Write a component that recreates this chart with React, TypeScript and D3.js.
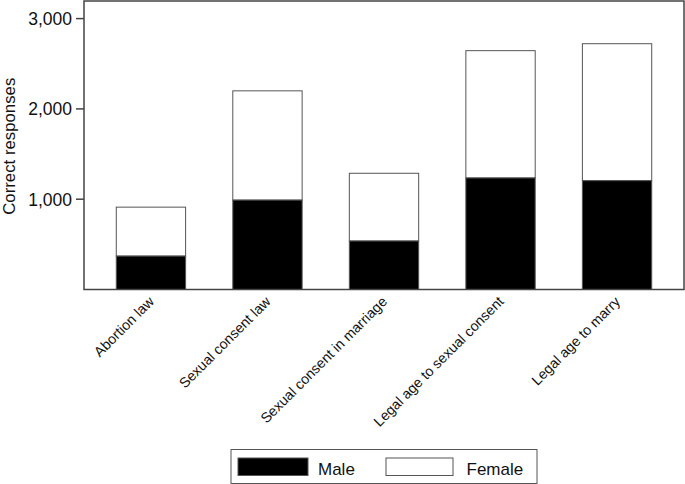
import React from "react";
import * as d3 from "d3";

const categories = [
  "Abortion law",
  "Sexual consent law",
  "Sexual consent in marriage",
  "Legal age to sexual consent",
  "Legal age to marry",
];
const maleValues = [370, 990, 537, 1235, 1205];
const femaleValues = [542, 1210, 750, 1410, 1517];
const yTicks = [1000, 2000, 3000];
const seriesNames = ["Male", "Female"];

const W = 685;
const H = 484;
const left = 84;
const right = 684;
const top = 1;
const bottom = 289.5;
const font = "'Liberation Sans', Arial, Helvetica, sans-serif";

export default function App() {
  const x = d3
    .scaleBand<string>()
    .domain(categories)
    .range([left, right])
    .paddingInner(0.405)
    .paddingOuter(0.277);
  const y = d3.scaleLinear().domain([0, 1000]).range([bottom, bottom - 90.3]);

  const fmt = d3.format(",");

  return (
    <div style={{ position: "absolute", left: 0, top: 0 }}>
      <svg width={W} height={H} style={{ display: "block", fontFamily: font }}>
        <rect width={W} height={H} fill="#fff" />
        {categories.map((c, i) => {
          const x0 = x(c)!;
          const bw = x.bandwidth();
          const m = maleValues[i];
          const f = femaleValues[i];
          return (
            <g key={c}>
              <rect
                x={x0}
                y={y(m + f)}
                width={bw}
                height={y(m) - y(m + f)}
                fill="#fff"
                stroke="#555"
                strokeWidth={1}
              />
              <rect
                x={x0}
                y={y(m)}
                width={bw}
                height={y(0) - y(m)}
                fill="#000"
                stroke="#555"
                strokeWidth={1}
              />
            </g>
          );
        })}
        <rect
          x={left}
          y={top}
          width={right - left}
          height={bottom - top}
          fill="none"
          stroke="#444"
          strokeWidth={1.5}
        />
        {yTicks.map((t) => (
          <g key={t}>
            <line x1={left - 8} x2={left} y1={y(t)} y2={y(t)} stroke="#444" strokeWidth={1.5} />
            <text
              x={left - 12}
              y={y(t)}
              dy="0.36em"
              textAnchor="end"
              fontSize={17.5}
              fill="#111"
            >
              {fmt(t)}
            </text>
          </g>
        ))}
        <text
          transform={`translate(15, ${(top + bottom) / 2 + 1}) rotate(-90)`}
          textAnchor="middle"
          fontSize={16.8}
          fill="#111"
        >
          Correct responses
        </text>
        {categories.map((c) => {
          const cx = x(c)! + x.bandwidth() / 2 + 4;
          return (
            <text
              key={c}
              transform={`translate(${cx}, ${bottom + 13}) rotate(-45)`}
              textAnchor="end"
              fontSize={14.2}
              fill="#111"
            >
              {c}
            </text>
          );
        })}
        <g>
          <rect x={231} y={449.5} width={306} height={34} fill="#fff" stroke="#555" strokeWidth={1} />
          <rect x={238} y={458} width={70} height={17.5} fill="#000" stroke="#555" strokeWidth={1} />
          <text x={318} y={474.5} fontSize={17} fill="#111">
            {seriesNames[0]}
          </text>
          <rect x={386} y={458} width={67} height={17.5} fill="#fff" stroke="#555" strokeWidth={1} />
          <text x={466.5} y={474.5} fontSize={17} fill="#111">
            {seriesNames[1]}
          </text>
        </g>
      </svg>
    </div>
  );
}
